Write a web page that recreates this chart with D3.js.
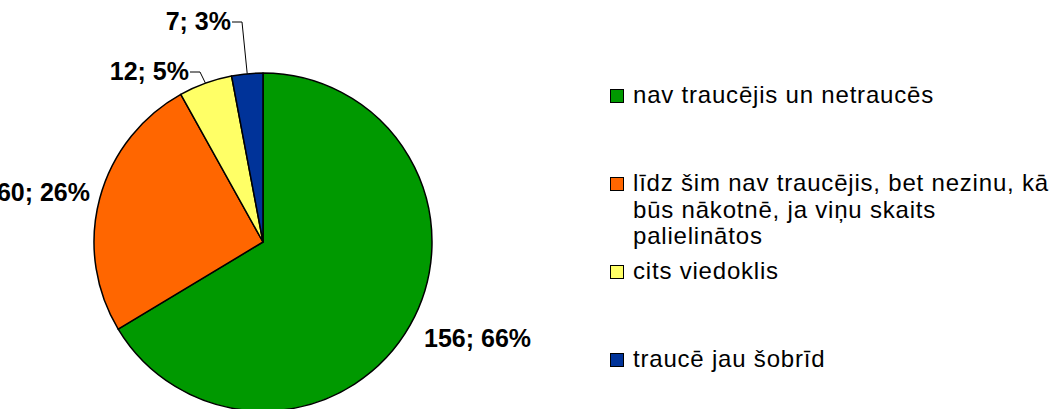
<!DOCTYPE html>
<html>
<head>
<meta charset="utf-8">
<script src="https://cdn.jsdelivr.net/npm/d3@7"></script>
<style>
  html, body { margin: 0; padding: 0; background: #ffffff; }
  svg { display: block; font-family: "Liberation Sans", Arial, sans-serif; }
</style>
</head>
<body>
<svg id="chart" width="1058" height="409"></svg>
<script>
// Survey answers: count per category
const categories = [
  "nav traucējis un netraucēs",
  "līdz šim nav traucējis, bet nezinu, kā būs nākotnē, ja viņu skaits palielinātos",
  "cits viedoklis",
  "traucē jau šobrīd"
];
const counts = [156, 60, 12, 7];
const colors = ["#009900", "#FF6600", "#FFFF66", "#003399"];

// Legend text broken into lines
const legendLines = [
  ["nav traucējis un netraucēs"],
  ["līdz šim nav traucējis, bet nezinu, kā", "būs nākotnē, ja viņu skaits", "palielinātos"],
  ["cits viedoklis"],
  ["traucē jau šobrīd"]
];

// Layout
const W = 1058, H = 409;
const cx = 263, cy = 242, R = 169;
// Data-label placement relative to the pie centre (x, baseline, anchor, leader)
const labelLayout = [
  { dx: 161,  dy: 105,  anchor: "start", leader: false },
  { dx: -173, dy: -41,  anchor: "end",   leader: false },
  { dx: -74,  dy: -162, anchor: "end",   leader: true },
  { dx: -32,  dy: -212, anchor: "end",   leader: true }
];

const svg = d3.select("#chart");
const total = d3.sum(counts);

const pie = d3.pie().sort(null).value(d => d)
  .startAngle(0).endAngle(2 * Math.PI);
const arcs = pie(counts);
const arc = d3.arc().innerRadius(0).outerRadius(R);

const g = svg.append("g").attr("transform", `translate(${cx},${cy})`);

g.selectAll("path.slice")
  .data(arcs)
  .enter().append("path")
  .attr("class", "slice")
  .attr("d", arc)
  .attr("fill", (d, i) => colors[i])
  .attr("stroke", "#000")
  .attr("stroke-width", 1.5)
  .attr("stroke-linejoin", "round");

// Data labels "value; percent"
g.selectAll("text.lbl")
  .data(arcs)
  .enter().append("text")
  .attr("class", "lbl")
  .attr("x", (d, i) => labelLayout[i].dx)
  .attr("y", (d, i) => labelLayout[i].dy)
  .attr("text-anchor", (d, i) => labelLayout[i].anchor)
  .attr("font-size", 25)
  .attr("font-weight", "bold")
  .attr("fill", "#000")
  .text(d => `${d.value}; ${Math.round(d.value / total * 100)}%`);

// Leader lines from moved labels to the slice edge
arcs.forEach((d, i) => {
  const L = labelLayout[i];
  if (!L.leader) return;
  const mid = (d.startAngle + d.endAngle) / 2;
  const ex = Math.sin(mid) * R, ey = -Math.cos(mid) * R;
  const ly = L.dy - 8;
  const lx = L.dx + 1;
  g.append("path")
    .attr("d", `M${lx},${ly} H${lx + 10} L${ex},${ey}`)
    .attr("fill", "none")
    .attr("stroke", "#000")
    .attr("stroke-width", 1);
});

// Legend
const legend = svg.append("g").attr("transform", "translate(610,103)");
const step = 88, lineH = 26.5;
const items = legend.selectAll("g.item")
  .data(categories)
  .enter().append("g")
  .attr("class", "item")
  .attr("transform", (d, i) => `translate(0,${i * step})`);

items.append("rect")
  .attr("x", 0.5).attr("y", -13.5)
  .attr("width", 13).attr("height", 13)
  .attr("fill", (d, i) => colors[i])
  .attr("stroke", "#000")
  .attr("stroke-width", 1);

items.append("text")
  .attr("font-size", 24)
  .attr("letter-spacing", 0.8)
  .attr("fill", "#000")
  .each(function (d, i) {
    const t = d3.select(this);
    legendLines[i].forEach((line, k) => {
      t.append("tspan").attr("x", 23).attr("y", k * lineH).text(line);
    });
  });
</script>
</body>
</html>
